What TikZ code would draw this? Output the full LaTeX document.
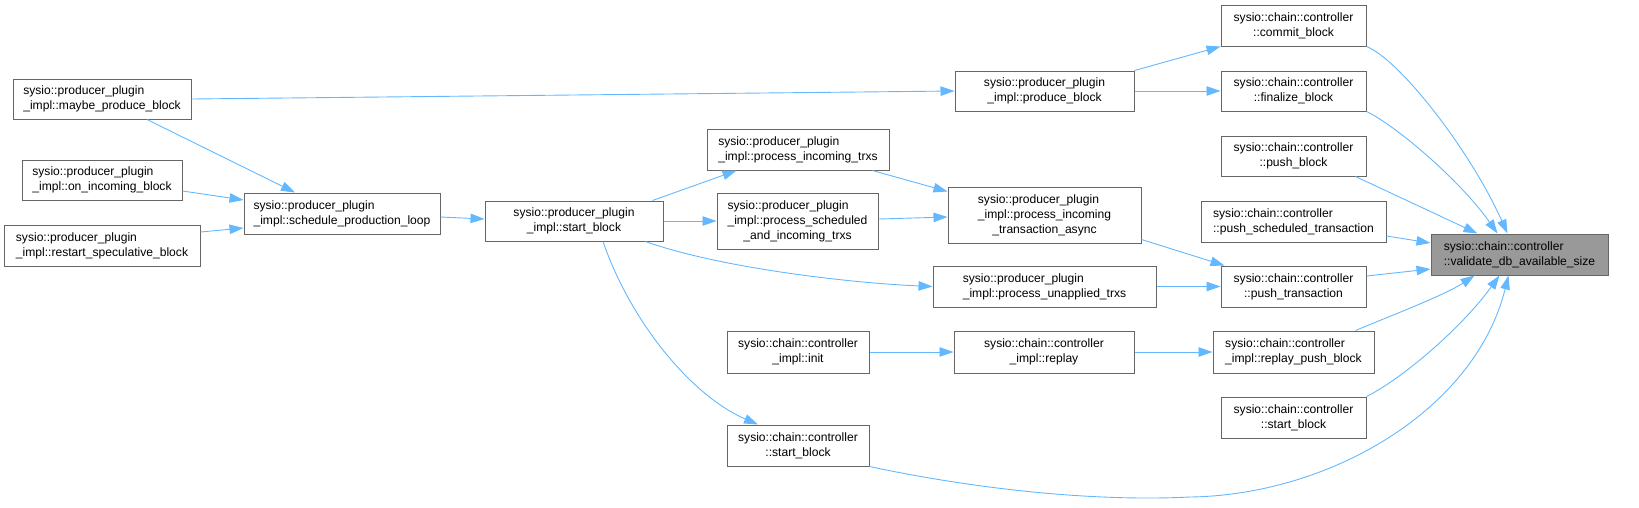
\documentclass[tikz,border=0pt]{standalone}
\usepackage{fontspec}
\setmainfont{Liberation Sans}
\usetikzlibrary{arrows.meta}
\definecolor{edgeblue}{HTML}{63B8FF}
\definecolor{boxline}{HTML}{666666}
\definecolor{hilite}{HTML}{999999}
\begin{document}
\begin{tikzpicture}[x=1pt,y=-1pt,
  box/.style={draw=boxline,line width=1pt,fill=white,inner sep=0pt,
    font=\fontsize{12.1}{15}\selectfont,text=black},
  ctr/.style={box,align=center},
  lft/.style={box,align=left},
  sz/.style 2 args={minimum width=#1pt,minimum height=#2pt},
  edge/.style={draw=edgeblue,line width=0.9pt,-{Triangle[length=14pt,width=9.5pt]}}
]
\useasboundingbox (0,0) rectangle (1639,507);
% nodes
\node[lft,sz={178}{40}] (mpb) at (102,99) {sysio::producer\_plugin\\\_impl::maybe\_produce\_block};
\node[lft,sz={160}{40}] (oib) at (102,180) {sysio::producer\_plugin\\\_impl::on\_incoming\_block};
\node[lft,sz={196}{41}] (rsb) at (102,245.5) {sysio::producer\_plugin\\\_impl::restart\_speculative\_block};
\node[lft,sz={196}{41}] (spl) at (342,213.5) {sysio::producer\_plugin\\\_impl::schedule\_production\_loop};
\node[ctr,sz={178}{40}] (psb) at (574,221) {sysio::producer\_plugin\\\_impl::start\_block};
\node[lft,sz={182}{41}] (pit) at (798,149.5) {sysio::producer\_plugin\\\_impl::process\_incoming\_trxs};
\node[ctr,sz={161}{56}] (pst) at (797.5,221) {\rlap{sysio::producer\_plugin}\phantom{\_impl::process\_scheduled}\\\_impl::process\_scheduled\\\_and\_incoming\_trxs};
\node[lft,sz={223}{41}] (pua) at (1044.5,286.5) {sysio::producer\_plugin\\\_impl::process\_unapplied\_trxs};
\node[ctr,sz={142}{42}] (cii) at (798,352) {sysio::chain::controller\\\_impl::init};
\node[ctr,sz={142}{41}] (csb) at (798,445.5) {sysio::chain::controller\\::start\_block};
\node[ctr,sz={179}{40}] (ppb) at (1044.5,91) {sysio::producer\_plugin\\\_impl::produce\_block};
\node[ctr,sz={193}{56}] (ita) at (1044.5,215) {\rlap{sysio::producer\_plugin}\phantom{\_impl::process\_incoming}\\\_impl::process\_incoming\\\_transaction\_async};
\node[ctr,sz={180}{42}] (rpl) at (1044,352) {sysio::chain::controller\\\_impl::replay};
\node[ctr,sz={145}{41}] (cmb) at (1293.5,25.5) {sysio::chain::controller\\::commit\_block};
\node[ctr,sz={145}{40}] (fnb) at (1293.5,91) {sysio::chain::controller\\::finalize\_block};
\node[ctr,sz={145}{40}] (psh) at (1293.5,156) {sysio::chain::controller\\::push\_block};
\node[lft,sz={185}{41}] (pstx) at (1293.5,221.5) {sysio::chain::controller\\::push\_scheduled\_transaction};
\node[ctr,sz={145}{41}] (ptx) at (1293.5,286.5) {sysio::chain::controller\\::push\_transaction};
\node[lft,sz={161}{42}] (rpb) at (1293.5,352) {sysio::chain::controller\\\_impl::replay\_push\_block};
\node[ctr,sz={145}{41}] (csbr) at (1293.5,417.5) {sysio::chain::controller\\::start\_block};
\node[lft,sz={177}{41},fill=hilite] (val) at (1519.5,254.5) {sysio::chain::controller\\::validate\_db\_available\_size};
% edges
\draw[edge] (mpb.east) -- (ppb.west);
\draw[edge] ([xshift=45pt]mpb.south) -- ([xshift=-47pt]spl.north);
\draw[edge] ([yshift=-11pt]oib.east) -- ([yshift=13.5pt]spl.west);
\draw[edge] ([yshift=13.5pt]rsb.east) -- ([yshift=-14.5pt]spl.west);
\draw[edge] ([yshift=-3.5pt]spl.east) -- ([yshift=2pt]psb.west);
\draw[edge] ([xshift=-11pt]psb.north east) -- ([xshift=30pt]pit.south west);
\draw[edge] (psb.east) -- (pst.west);
\draw[edge] ([xshift=-18pt]psb.south east) .. controls (720,268) and (850,283) .. (pua.west);
\draw[edge] ([xshift=29pt]psb.south) .. controls (630,320) and (690,395) .. ([xshift=-40pt]csb.north);
\draw[edge] ([xshift=-17pt]pit.south east) -- ([yshift=-5pt]ita.north west);
\draw[edge] ([yshift=2pt]pst.east) -- ([yshift=-2pt]ita.west);
\draw[edge] (ppb.north east) -- (cmb.south west);
\draw[edge] (ppb.east) -- (fnb.west);
\draw[edge] ([yshift=4pt]ita.south east) -- ([xshift=4pt]ptx.north west);
\draw[edge] (pua.east) -- (ptx.west);
\draw[edge] (cii.east) -- (rpl.west);
\draw[edge] (rpl.east) -- (rpb.west);
\draw[edge] (cmb.south east) .. controls (1400,60) and (1470,150) .. ([xshift=-12pt]val.north);
\draw[edge] (fnb.south east) .. controls (1395,125) and (1460,180) .. ([xshift=-22pt]val.north);
\draw[edge] ([xshift=-11pt]psh.south east) -- ([xshift=-42pt]val.north);
\draw[edge] ([yshift=-14.5pt]pstx.east) -- ([yshift=11.5pt]val.west);
\draw[edge] ([yshift=10.5pt]ptx.east) -- ([yshift=-14.5pt]val.west);
\draw[edge] ([xshift=-19pt]rpb.north east) .. controls (1390,316) and (1445,295) .. ([xshift=-45pt]val.south);
\draw[edge] (csbr.north east) .. controls (1400,380) and (1460,330) .. ([xshift=-20pt]val.south);
\draw[edge] (csb.south east) .. controls (970,488) and (1090,502) .. (1190,497) .. controls (1330,495) and (1475,410) .. ([xshift=-11pt]val.south);
\end{tikzpicture}
\end{document}
